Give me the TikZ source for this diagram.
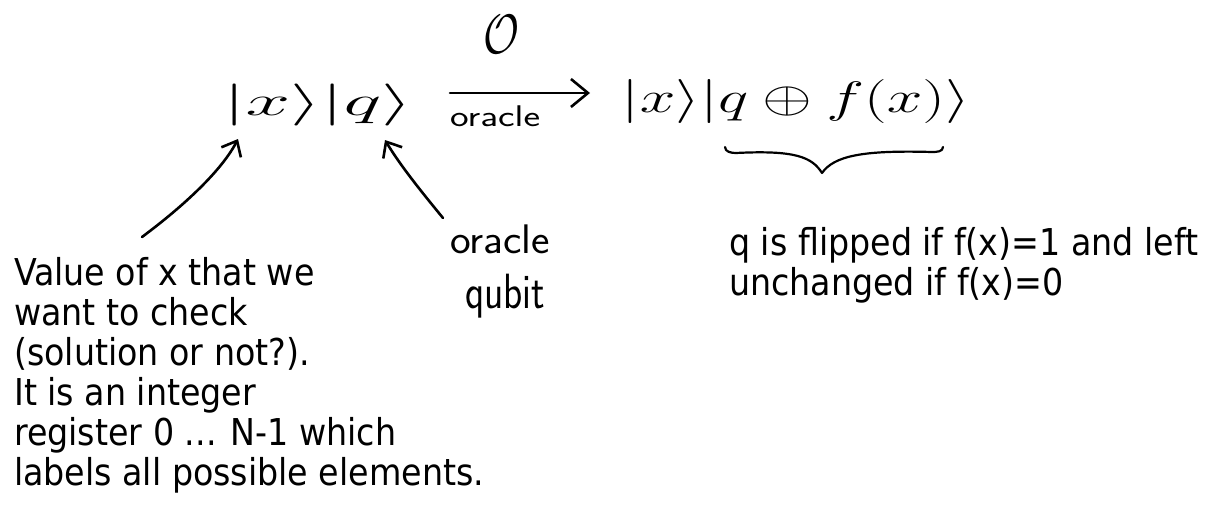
\documentclass[tikz,border=0pt]{standalone}
\usepackage{graphicx}
\usepackage{fontspec}
\setmainfont{DejaVu Sans Condensed}
\usetikzlibrary{arrows.meta}
\tikzset{
  ink/.style={line width=2.6pt, line cap=round, line join=round},
  pointer/.style={ink, -{Straight Barb[length=13pt, width=22pt, line width=2.6pt]}},
  mapsto/.style={ink, -{Straight Barb[length=17pt, width=28pt, line width=2.6pt]}},
  typed/.style={font=\fontsize{37}{40}\selectfont, align=left, inner sep=0pt, anchor=base west},
  hand/.style={font=\fontsize{20}{20}\selectfont, inner sep=0pt},
}
\begin{document}
\begin{tikzpicture}[x=1pt, y=-1pt]
\useasboundingbox (0,0) rectangle (1210,506);

% the two states and the oracle map between them
\node[hand] (ketin) at (318,105) {\resizebox*{189pt}{42pt}{$|x\rangle|q\rangle$}};
\node[hand] (ketout) at (796,101) {\resizebox*{348pt}{44pt}{$|x\rangle|q\oplus f(x)\rangle$}};
\node[hand] (O) at (501,34) {\resizebox*{36pt}{38pt}{$\mathcal{O}$}};
\coordinate (mapstart) at (450,93);
\coordinate (mapend) at (590,93);
\draw[mapsto] (mapstart) -- (mapend);
\node[hand] (mapname) at (495,116) {\resizebox*{90pt}{21pt}{\sffamily oracle}};

% brace under the second register
\coordinate (brL) at (725,147);
\coordinate (brR) at (943,147);
\coordinate (brTip) at (822,173);
\draw[ink, line width=2.2pt] (brL) to[out=-90,in=180] (736,153)
  .. controls (795,150) and (812,157) .. (brTip)
  .. controls (834,156) and (862,150) .. (932,152)
  to[out=0,in=-90] (brR);

% explanation of the input register (anchored on the baseline of its last line)
\node[typed] (xnote) at (14,485) {Value of x that we\\want to check\\(solution or not?).\\It is an integer\\register 0 ... N-1 which\\labels all possible elements.};
\coordinate (xtail) at (142,237);
\coordinate (xtip) at (238,139);
\draw[pointer] (xtail) .. controls (185,205) and (222,170) .. (xtip);

% the oracle qubit
\node[hand] (qlab1) at (500,239) {\resizebox*{100pt}{29pt}{\sffamily oracle}};
\node[hand] (qlab2) at (505,296) {\resizebox*{80pt}{44pt}{\sffamily qubit}};
\coordinate (qtail) at (443,218);
\coordinate (qtip) at (385,140);
\draw[pointer] (qtail) .. controls (420,190) and (400,165) .. (qtip);

% effect of the oracle on q
\node[typed] (qnote) at (729,295) {q is flipped if f(x)=1 and left\\unchanged if f(x)=0};
\end{tikzpicture}
\end{document}
